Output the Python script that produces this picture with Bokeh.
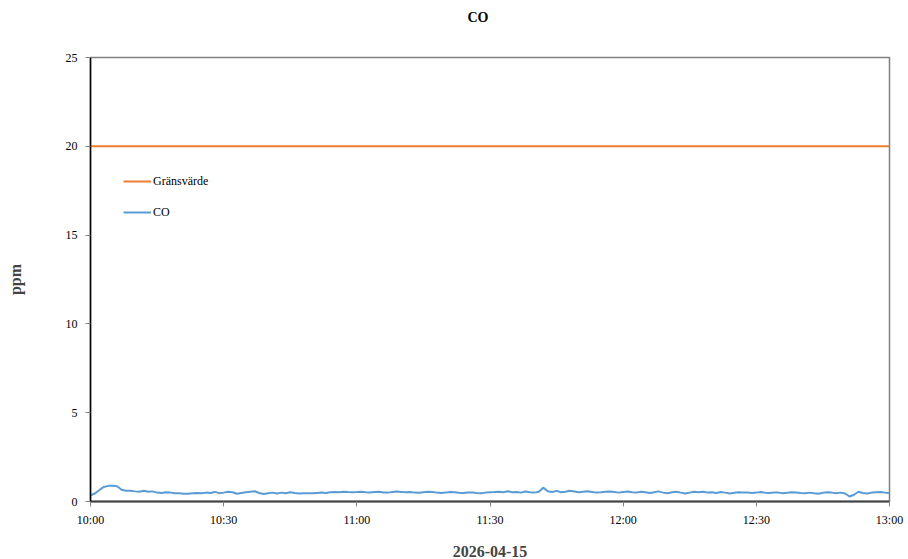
import pandas as pd
from bokeh.plotting import figure
from bokeh.models import Range1d, FixedTicker, DatetimeTickFormatter, Div
from bokeh.layouts import column
from bokeh.embed import file_html
from bokeh.resources import INLINE

# ---------------- data ----------------
chart_title = "CO"
date_label = "2026-04-15"
y_label = "ppm"
tick_labels = ["10:00", "10:30", "11:00", "11:30", "12:00", "12:30", "13:00"]
y_ticks = [0, 5, 10, 15, 20, 25]
limit_name = "Gränsvärde"
limit_value = 20
co_name = "CO"
# one reading per minute, 10:00 .. 13:00
co_values = [
    0.35, 0.45, 0.65, 0.82, 0.88, 0.88, 0.86, 0.66, 0.60, 0.60,   # 10:00
    0.57, 0.55, 0.60, 0.55, 0.57, 0.50, 0.48, 0.52, 0.50, 0.47,   # 10:10
    0.46, 0.44, 0.44, 0.47, 0.48, 0.47, 0.50, 0.48, 0.54, 0.47,   # 10:20
    0.50, 0.55, 0.52, 0.44, 0.48, 0.52, 0.55, 0.58, 0.48, 0.42,   # 10:30
    0.46, 0.50, 0.45, 0.50, 0.47, 0.52, 0.48, 0.45, 0.46, 0.47,   # 10:40
    0.46, 0.48, 0.50, 0.48, 0.52, 0.53, 0.52, 0.55, 0.53, 0.52,   # 10:50
    0.53, 0.55, 0.52, 0.51, 0.53, 0.55, 0.51, 0.50, 0.53, 0.56,   # 11:00
    0.54, 0.52, 0.54, 0.50, 0.49, 0.52, 0.55, 0.53, 0.50, 0.48,   # 11:10
    0.50, 0.53, 0.52, 0.49, 0.48, 0.51, 0.50, 0.48, 0.47, 0.50,   # 11:20
    0.52, 0.53, 0.55, 0.52, 0.58, 0.52, 0.54, 0.50, 0.56, 0.52,   # 11:30
    0.50, 0.55, 0.78, 0.58, 0.53, 0.60, 0.52, 0.55, 0.60, 0.56,   # 11:40
    0.52, 0.55, 0.58, 0.54, 0.50, 0.52, 0.55, 0.56, 0.53, 0.50,   # 11:50
    0.53, 0.56, 0.52, 0.50, 0.55, 0.52, 0.48, 0.52, 0.57, 0.50,   # 12:00
    0.46, 0.52, 0.55, 0.50, 0.45, 0.50, 0.55, 0.52, 0.55, 0.50,   # 12:10
    0.52, 0.48, 0.53, 0.50, 0.45, 0.49, 0.52, 0.51, 0.50, 0.48,   # 12:20
    0.50, 0.53, 0.49, 0.48, 0.51, 0.50, 0.47, 0.49, 0.52, 0.50,   # 12:30
    0.48, 0.47, 0.50, 0.46, 0.44, 0.49, 0.52, 0.50, 0.47, 0.50,   # 12:40
    0.45, 0.28, 0.38, 0.55, 0.48, 0.45, 0.50, 0.52, 0.53, 0.50,   # 12:50
    0.47,                                                         # 13:00
]

times = pd.date_range(f"{date_label} {tick_labels[0]}", periods=len(co_values), freq="min")
tick_times = [pd.Timestamp(f"{date_label} {t}") for t in tick_labels]
tick_ms = [t.value // 10**6 for t in tick_times]
limit_times = [tick_times[0], tick_times[-1]]
limit_values = [limit_value, limit_value]

FONT = "Liberation Serif"
ORANGE = "#ED7D31"
BLUE = "#5B9BD5"

W, H = 908, 559
TITLE_H = 36

title_div = Div(
    text=(f'<div style="width:{W}px;height:{TITLE_H}px;line-height:{TITLE_H}px;'
          f'box-sizing:border-box;padding-left:48px;text-align:center;'
          f'font-family:\'{FONT}\';font-size:14px;font-weight:bold;color:black;margin:0;">'
          f'{chart_title}</div>'),
    width=W, height=TITLE_H, margin=0,
)

p = figure(
    width=W, height=H - TITLE_H,
    x_axis_type="datetime",
    x_range=Range1d(tick_times[0], tick_times[-1]),
    y_range=Range1d(y_ticks[0], y_ticks[-1]),
    output_backend="svg", toolbar_location=None,
    min_border_left=90, min_border_right=19,
    min_border_top=57 - TITLE_H, min_border_bottom=58,
    margin=0,
)

p.line(limit_times, limit_values, line_color=ORANGE, line_width=2, legend_label=limit_name)
p.line(times, co_values, line_color=BLUE, line_width=2, legend_label=co_name)

p.title.visible = False

# grids / outline
p.xgrid.visible = False
p.ygrid.visible = False
p.outline_line_color = "#808080"
p.outline_line_width = 1.5
p.background_fill_color = "white"
p.border_fill_color = "white"

# x axis
xa = p.xaxis[0]
xa.ticker = FixedTicker(ticks=tick_ms)
xa.formatter = DatetimeTickFormatter(minutes="%H:%M", hourmin="%H:%M", hours="%H:%M")
xa.axis_label = date_label
xa.axis_label_text_font = FONT
xa.axis_label_text_font_size = "16px"
xa.axis_label_text_font_style = "bold"
xa.axis_label_standoff = 16
xa.major_label_text_font = FONT
xa.major_label_text_font_size = "12px"
xa.major_label_text_color = "black"
xa.major_label_standoff = 6
xa.axis_line_color = "#404040"
xa.axis_line_width = 2
xa.major_tick_line_color = "#808080"
xa.major_tick_out = 5
xa.major_tick_in = 0
xa.minor_tick_line_color = None

# y axis
ya = p.yaxis[0]
ya.ticker = FixedTicker(ticks=y_ticks)
ya.axis_label = y_label
ya.axis_label_text_font = FONT
ya.axis_label_text_font_size = "16px"
ya.axis_label_text_font_style = "bold"
ya.axis_label_standoff = 39
ya.major_label_text_font = FONT
ya.major_label_text_font_size = "12px"
ya.major_label_text_color = "black"
ya.major_label_standoff = 8
ya.axis_line_color = "black"
ya.axis_line_width = 1.5
ya.major_tick_line_color = "#808080"
ya.major_tick_out = 5
ya.major_tick_in = 0
ya.minor_tick_line_color = None

# legend
lg = p.legend[0]
lg.location = (33, 279)
lg.border_line_color = None
lg.background_fill_alpha = 0
lg.padding = 0
lg.margin = 0
lg.spacing = 11
lg.glyph_width = 28
lg.glyph_height = 20
lg.label_height = 20
lg.label_standoff = 2
lg.label_text_font = FONT
lg.label_text_font_size = "12px"
lg.label_text_color = "black"

layout = column(title_div, p, spacing=0, margin=0)
open("out.html", "w").write(file_html(layout, INLINE))
